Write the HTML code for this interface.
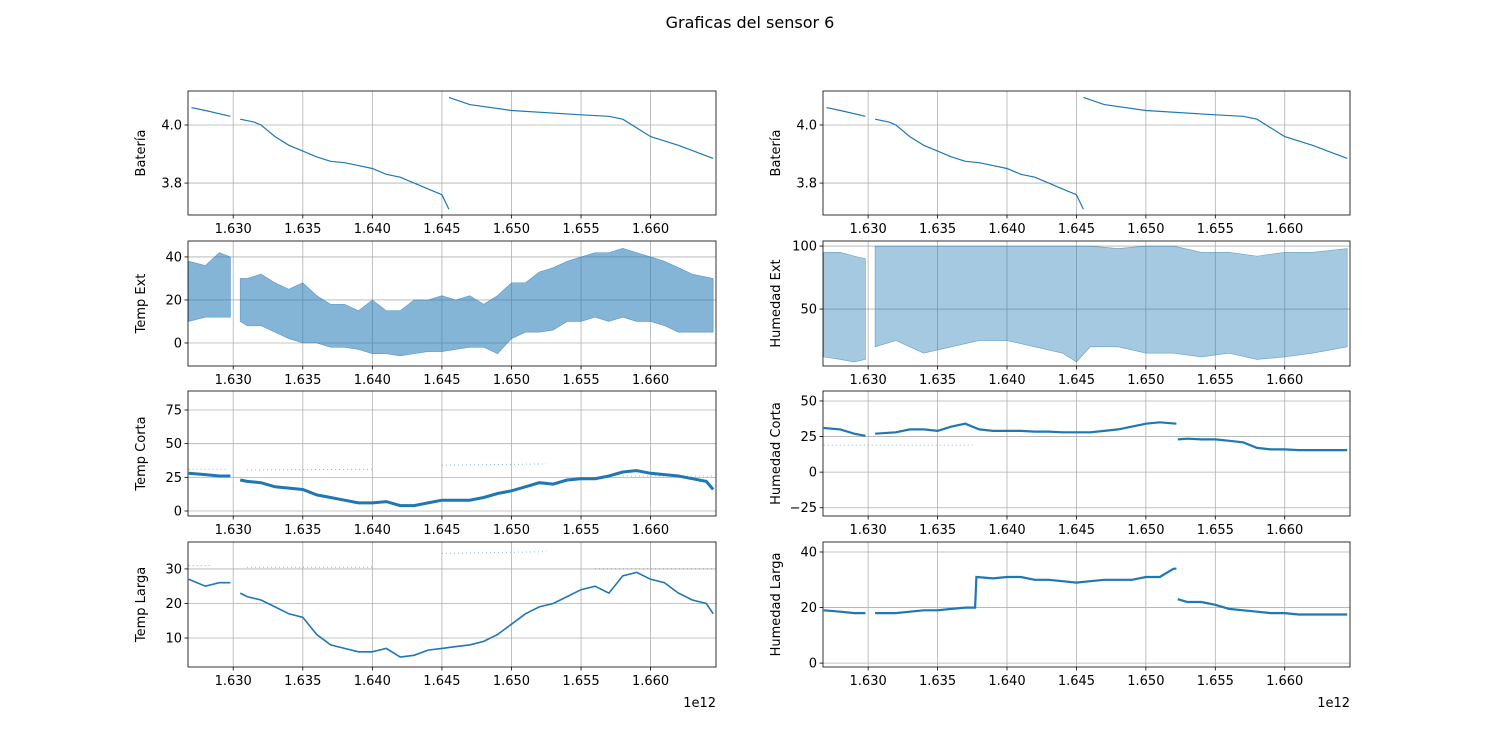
<!DOCTYPE html>
<html><head><meta charset="utf-8">
<style>
html,body{margin:0;padding:0;background:#fff;}
svg{display:block;font-family:"DejaVu Sans","Liberation Sans",sans-serif;}
</style></head>
<body>
<svg id="fig" width="1500" height="750" xmlns="http://www.w3.org/2000/svg">
<rect width="1500" height="750" fill="#fff"/>
<text x="750" y="28" text-anchor="middle" font-size="16">Graficas del sensor 6</text>
</svg>
<script>
const xTickVals = [1630,1635,1640,1645,1650,1655,1660];
const xTickLabels = ["1.630","1.635","1.640","1.645","1.650","1.655","1.660"];

const batT = [1627,1628,1629.8,null,1630.5,1631.5,1632,1633,1634,1635,1636,1637,1638,1639,1640,1641,1642,1643,1644,1645,1645.5,null,1645.5,1647,1650,1655,1657,1658,1659,1660,1662,1664.5];
const batV = [4.06,4.05,4.03,null,4.02,4.01,4.0,3.96,3.93,3.91,3.89,3.875,3.87,3.86,3.85,3.83,3.82,3.80,3.78,3.76,3.71,null,4.095,4.07,4.05,4.035,4.03,4.02,3.99,3.96,3.93,3.885];

const tExtT = [1626.8,1628,1629,1629.8,null,1630.5,1631,1632,1633,1634,1635,1636,1637,1638,1639,1640,1641,1642,1643,1644,1645,1646,1647,1648,1649,1650,1651,1652,1653,1654,1655,1656,1657,1658,1659,1660,1661,1662,1663,1664.5];
const tExtLo = [10,12,12,12,null,10,8,8,5,2,0,0,-2,-2,-3,-5,-5,-6,-5,-4,-4,-3,-2,-2,-5,2,5,5,6,10,10,12,10,12,10,10,8,5,5,5];
const tExtHi = [38,36,42,40,null,30,30,32,28,25,28,22,18,18,15,20,15,15,20,20,22,20,22,18,22,28,28,33,35,38,40,42,42,44,42,40,38,35,32,30];

const hExtT = [1626.8,1628,1629,1629.8,null,1630.5,1632,1634,1636,1638,1640,1642,1644,1645,1646,1648,1650,1652,1654,1656,1658,1660,1662,1664.5];
const hExtLo = [12,10,8,10,null,20,25,15,20,25,25,20,15,8,20,20,15,15,12,15,10,12,15,20];
const hExtHi = [95,95,92,90,null,100,100,100,100,100,100,100,100,100,100,98,100,100,95,95,92,95,95,98];

const tCorT = [1626.8,1628,1629,1629.8,null,1630.5,1631,1632,1633,1634,1635,1636,1637,1638,1639,1640,1641,1642,1643,1644,1645,1646,1647,1648,1649,1650,1651,1652,1653,1654,1655,1656,1657,1658,1659,1660,1661,1662,1663,1664,1664.5];
const tCorV = [28,27,26,26,null,23,22,21,18,17,16,12,10,8,6,6,7,4,4,6,8,8,8,10,13,15,18,21,20,23,24,24,26,29,30,28,27,26,24,22,16];
const tCorSparseT = [1626.8,1629.5,null,1631,1640,null,1645,1652.5,null,1658,1664.5];
const tCorSparseV = [31,31,null,30.5,31,null,34,35,null,26,26];

const tLarT = [1626.8,1628,1629,1629.8,null,1630.5,1631,1632,1633,1634,1635,1636,1637,1638,1639,1640,1641,1642,1643,1644,1645,1646,1647,1648,1649,1650,1651,1652,1653,1654,1655,1656,1657,1658,1659,1660,1661,1662,1663,1664,1664.5];
const tLarV = [27,25,26,26,null,23,22,21,19,17,16,11,8,7,6,6,7,4.5,5,6.5,7,7.5,8,9,11,14,17,19,20,22,24,25,23,28,29,27,26,23,21,20,17];
const tLarSparseT = [1626.8,1628.5,null,1631,1640,null,1645,1652.5,null,1656,1664.5];
const tLarSparseV = [31,31,null,30.5,30.5,null,34.5,35,null,30,30];

const hCorT = [1626.8,1628,1629,1629.8,null,1630.5,1632,1633,1634,1635,1636,1637,1638,1639,1640,1641,1642,1643,1644,1645,1646,1647,1648,1649,1650,1651,1652.2,null,1652.3,1653,1654,1655,1656,1657,1658,1659,1660,1661,1662,1663,1664.5];
const hCorV = [31,30,27,25.5,null,27,28,30,30,29,32,34,30,29,29,29,28.5,28.5,28,28,28,29,30,32,34,35,34,null,23,23.5,23,23,22,21,17,16,16,15.5,15.5,15.5,15.5];
const hCorSparseT = [1626.8,1637.5];
const hCorSparseV = [19,19];

const hLarT = [1626.8,1628,1629,1629.8,null,1630.5,1632,1633,1634,1635,1636,1637,1637.7,1637.8,1639,1640,1641,1642,1643,1644,1645,1646,1647,1648,1649,1650,1651,1652,1652.2,null,1652.3,1653,1654,1655,1656,1657,1658,1659,1660,1661,1662,1663,1664.5];
const hLarV = [19,18.5,18,18,null,18,18,18.5,19,19,19.5,20,20,31,30.5,31,31,30,30,29.5,29,29.5,30,30,30,31,31,34,34,null,23,22,22,21,19.5,19,18.5,18,18,17.5,17.5,17.5,17.5];

const NS = "http://www.w3.org/2000/svg";
const svg = document.getElementById('fig');
const XMIN = 1626.75, XMAX = 1664.7;
function mk(tag, attrs, parent){ const e=document.createElementNS(NS,tag); for(const k in attrs) e.setAttribute(k,attrs[k]); (parent||svg).appendChild(e); return e; }

function panel(p){
  const g = mk('g',{});
  
  
  const sx = t => p.x + (t-XMIN)/(XMAX-XMIN)*p.w;
  const sy = v => p.y + (p.ymax-v)/(p.ymax-p.ymin)*p.h;
  xTickVals.forEach((t,i)=>{
    const X=sx(t);
    const gl=mk('line',{x1:X,x2:X,y1:p.y,y2:p.y+p.h,stroke:'#b0b0b0','stroke-width':0.8},g);
    
    
    mk('line',{x1:X,x2:X,y1:p.y+p.h,y2:p.y+p.h+3.5,stroke:'#000','stroke-width':0.8},g);
    const tl=mk('text',{x:X,y:p.y+p.h+18,'text-anchor':'middle','font-size':13,fill:'#000'},g);
    tl.textContent=xTickLabels[i];
    
    
  });
  p.yticks.forEach((v,i)=>{
    const Y=sy(v);
    const gl=mk('line',{x1:p.x,x2:p.x+p.w,y1:Y,y2:Y,stroke:'#b0b0b0','stroke-width':0.8},g);
    
    
    mk('line',{x1:p.x-3.5,x2:p.x,y1:Y,y2:Y,stroke:'#000','stroke-width':0.8},g);
    const tl=mk('text',{x:p.x-6,y:Y+4.5,'text-anchor':'end','font-size':13,fill:'#000'},g);
    tl.textContent=p.ylabels[i];
    
    
  });
  const cid='clip'+Math.round(p.x)+'_'+Math.round(p.y);
  const cp=mk('clipPath',{id:cid},g); mk('rect',{x:p.x,y:p.y,width:p.w,height:p.h},cp);
  const dg=mk('g',{'clip-path':'url(#'+cid+')'},g);
  (p.bands||[]).forEach(b=>{
    let segs=[],cur=[];
    b.t.forEach((t,i)=>{ if(t===null){ if(cur.length) segs.push(cur); cur=[]; } else cur.push(i); });
    if(cur.length) segs.push(cur);
    segs.forEach(s=>{
      const top=s.map(i=>sx(b.t[i])+','+sy(b.hi[i]));
      const bot=s.slice().reverse().map(i=>sx(b.t[i])+','+sy(b.lo[i]));
      const poly=mk('polygon',{points:top.concat(bot).join(' '),fill:'#1f77b4','fill-opacity':b.op||0.55,stroke:'#1f77b4','stroke-width':0.6,'stroke-opacity':0.6},dg);
      
      
    });
  });
  (p.lines||[]).forEach(l=>{
    let d='',pen=false;
    l.t.forEach((t,i)=>{ if(t===null||l.v[i]===null){pen=false;return;} d+=(pen?'L':'M')+sx(t).toFixed(1)+','+sy(l.v[i]).toFixed(1); pen=true; });
    const path=mk('path',{d:d,fill:'none',stroke:'#1f77b4','stroke-width':l.w||1.5,'stroke-opacity':l.op||1,'stroke-dasharray':l.dash||'none'},dg);
    
    
  });
  mk('rect',{x:p.x,y:p.y,width:p.w,height:p.h,fill:'none',stroke:'#000','stroke-width':0.8},g);
  const yl=mk('text',{x:0,y:0,'text-anchor':'middle','font-size':13,transform:`translate(${p.x-43},${p.y+p.h/2}) rotate(-90)`},g);
  yl.textContent=p.ylabel;
  
  
  if(p.offset){
    const o=mk('text',{x:p.x+p.w,y:p.y+p.h+40,'text-anchor':'end','font-size':13},g);
    o.textContent='1e12';
    
    
  }
}

const L={x:188,w:528}, R={x:823,w:527};
const rows=[91,241,391,542], H=125;
const sparse = {w:1,op:0.55,dash:'1 3'};

panel({name:'bateria-left-panel',x:L.x,w:L.w,y:rows[0],h:H-1,ymin:3.69,ymax:4.117,yticks:[3.8,4.0],ylabels:['3.8','4.0'],ylabel:'Batería',lines:[{t:batT,v:batV,w:1.2,name:'bateria-line'}]});
panel({name:'bateria-right-panel',x:R.x,w:R.w,y:rows[0],h:H-1,ymin:3.69,ymax:4.117,yticks:[3.8,4.0],ylabels:['3.8','4.0'],ylabel:'Batería',lines:[{t:batT,v:batV,w:1.2,name:'bateria-line'}]});
panel({name:'temp-ext-panel',x:L.x,w:L.w,y:rows[1],h:H,ymin:-10.7,ymax:47.4,yticks:[0,20,40],ylabels:['0','20','40'],ylabel:'Temp Ext',bands:[{t:tExtT,lo:tExtLo,hi:tExtHi,op:0.55}]});
panel({name:'humedad-ext-panel',x:R.x,w:R.w,y:rows[1],h:H,ymin:4.8,ymax:104,yticks:[50,100],ylabels:['50','100'],ylabel:'Humedad Ext',bands:[{t:hExtT,lo:hExtLo,hi:hExtHi,op:0.4}]});
panel({name:'temp-corta-panel',x:L.x,w:L.w,y:rows[2],h:H,ymin:-3.7,ymax:89.1,yticks:[0,25,50,75],ylabels:['0','25','50','75'],ylabel:'Temp Corta',lines:[{t:tCorT,v:tCorV,w:3,name:'temp-corta-line'},Object.assign({t:tCorSparseT,v:tCorSparseV,name:'temp-corta-sparse'},sparse)]});
panel({name:'humedad-corta-panel',x:R.x,w:R.w,y:rows[2],h:H,ymin:-30.8,ymax:57,yticks:[-25,0,25,50],ylabels:['−25','0','25','50'],ylabel:'Humedad Corta',lines:[{t:hCorT,v:hCorV,w:2.2,name:'humedad-corta-line'},Object.assign({t:hCorSparseT,v:hCorSparseV,name:'humedad-corta-sparse'},sparse)]});
panel({name:'temp-larga-panel',x:L.x,w:L.w,y:rows[3],h:H,ymin:1.6,ymax:37.8,yticks:[10,20,30],ylabels:['10','20','30'],ylabel:'Temp Larga',offset:true,lines:[{t:tLarT,v:tLarV,w:1.6,name:'temp-larga-line'},Object.assign({t:tLarSparseT,v:tLarSparseV,name:'temp-larga-sparse'},sparse)]});
panel({name:'humedad-larga-panel',x:R.x,w:R.w,y:rows[3],h:H,ymin:-1.4,ymax:43.6,yticks:[0,20,40],ylabels:['0','20','40'],ylabel:'Humedad Larga',offset:true,lines:[{t:hLarT,v:hLarV,w:2.2,name:'humedad-larga-line'}]});
</script>
</body></html>
